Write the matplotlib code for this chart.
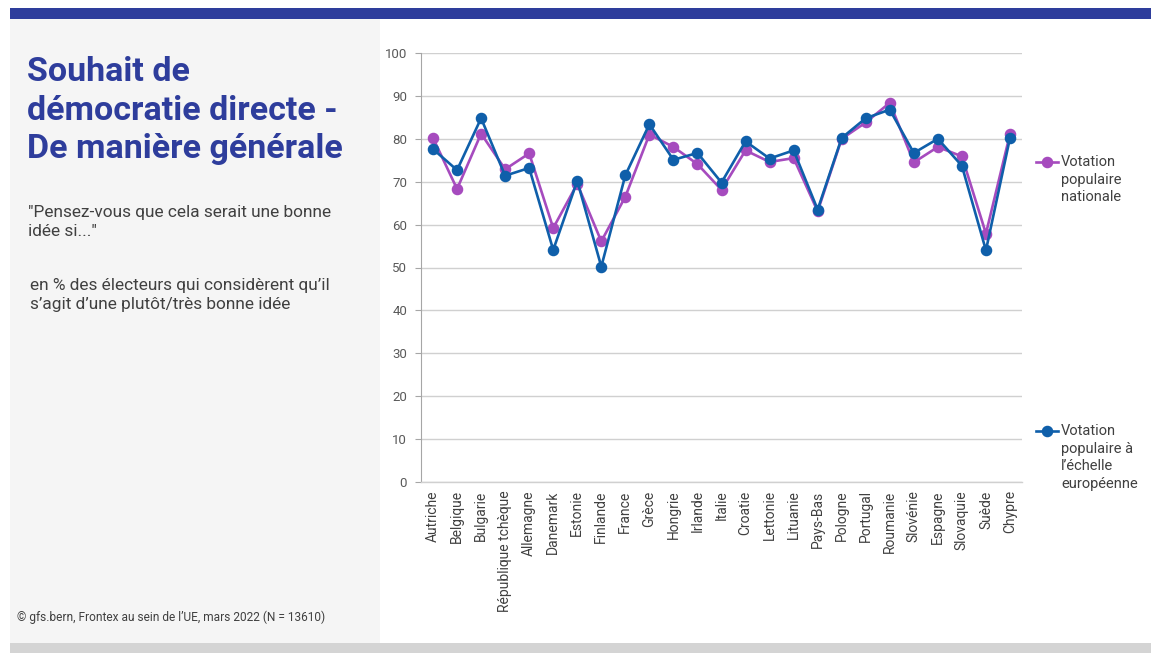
import matplotlib
matplotlib.use("Agg")
import matplotlib.pyplot as plt
from matplotlib.lines import Line2D
from matplotlib.patches import Rectangle

countries = ["Autriche", "Belgique", "Bulgarie", "République tchèque", "Allemagne",
             "Danemark", "Estonie", "Finlande", "France", "Grèce", "Hongrie", "Irlande",
             "Italie", "Croatie", "Lettonie", "Lituanie", "Pays-Bas", "Pologne",
             "Portugal", "Roumanie", "Slovénie", "Espagne", "Slovaquie", "Suède", "Chypre"]
nationale = [80.2, 68.3, 81.2, 72.9, 76.6, 59.2, 69.5, 56.1, 66.5, 81.0, 78.1, 74.1,
             68.1, 77.3, 74.6, 75.5, 63.1, 80.0, 83.8, 88.4, 74.5, 78.1, 75.9, 57.9, 81.1]
europeenne = [77.6, 72.7, 84.8, 71.4, 73.2, 54.1, 70.2, 50.2, 71.5, 83.4, 75.1, 76.7,
              69.8, 79.4, 75.4, 77.3, 63.5, 80.2, 84.8, 86.8, 76.7, 80.0, 73.7, 54.0, 80.2]
yticks = list(range(0, 101, 10))
label_nat = "Votation\npopulaire\nnationale"
label_eur = "Votation\npopulaire à\nl’échelle\neuropéenne"

PURPLE = "#A64BBE"
BLUE = "#0F5FAA"
NAVY = "#2E3D9C"
FONT = ["Roboto", "DejaVu Sans"]
plt.rcParams["font.family"] = FONT

W, H = 1151, 653
fig = plt.figure(figsize=(W / 100, H / 100), dpi=100)
fig.patch.set_facecolor("white")

def px(x, y):
    return x / W, 1 - y / H

# background panels
fig.add_artist(Rectangle(px(10, 643), 370 / W, 624 / H, transform=fig.transFigure,
                         facecolor="#F5F5F5", edgecolor="none", zorder=0))
fig.add_artist(Rectangle(px(10, 19), (W - 10) / W, 11 / H, transform=fig.transFigure,
                         facecolor=NAVY, edgecolor="none", zorder=0))
fig.add_artist(Rectangle(px(10, 653), (W - 10) / W, 10 / H, transform=fig.transFigure,
                         facecolor="#D4D4D4", edgecolor="none", zorder=0))

# texts in left panel
fig.text(*px(27, 56), "Souhait de\ndémocratie directe -\nDe manière générale",
         fontsize=24.5, fontweight="bold", color=NAVY, va="top", ha="left",
         linespacing=1.26)
fig.text(*px(28, 205), "\"Pensez-vous que cela serait une bonne\nidée si...\"",
         fontsize=12.4, color="#404040", va="top", ha="left", linespacing=1.3)
fig.text(*px(30, 278), "en % des électeurs qui considèrent qu’il\ns’agit d’une plutôt/très bonne idée",
         fontsize=12.4, color="#404040", va="top", ha="left", linespacing=1.3)
fig.text(*px(17, 617), "© gfs.bern, Frontex au sein de l’UE, mars 2022 (N = 13610)",
         fontsize=8.6, color="#404040", va="center", ha="left")

# axes
l, b = px(421, 482)
r, t = px(1022, 53)
ax = fig.add_axes([l, b, r - l, t - b])
x = list(range(len(countries)))
ax.plot(x, nationale, color=PURPLE, lw=1.9, marker="o", ms=7.3, zorder=3)
ax.plot(x, europeenne, color=BLUE, lw=1.9, marker="o", ms=7.3, zorder=4)
ax.set_xlim(-0.5, len(countries) - 0.5)
ax.set_ylim(0, 100)
ax.set_yticks(yticks)
ax.set_xticks(x)
ax.set_xticklabels(countries, rotation=90, fontsize=10, color="#404040")
ax.tick_params(axis="y", labelsize=9.5, labelcolor="#595959", length=4, color="#A6A6A6", pad=6)
ax.tick_params(axis="x", length=0, pad=6)
ax.grid(axis="y", color="#D0D0D0", lw=1)
ax.set_axisbelow(True)
for s in ["top", "right"]:
    ax.spines[s].set_visible(False)
ax.spines["left"].set_color("#A6A6A6")
ax.spines["bottom"].set_color("#D0D0D0")
ax.spines["bottom"].set_linewidth(1)
ax.set_facecolor("none")

# legend entries
def legend_entry(y, color, label):
    x0, yy = px(1036, y)
    x1, _ = px(1058, y)
    fig.add_artist(Line2D([x0, x1], [yy, yy], transform=fig.transFigure, color=color, lw=1.9))
    fig.add_artist(Line2D([(x0 + x1) / 2], [yy], transform=fig.transFigure, color=color,
                          marker="o", ms=7.3))
    fig.text(*px(1061, y - 7), label, fontsize=10.5, color="#404040", va="top", ha="left",
             linespacing=1.33)

legend_entry(162, PURPLE, label_nat)
legend_entry(431, BLUE, label_eur)

fig.savefig("out.png", dpi=100)
